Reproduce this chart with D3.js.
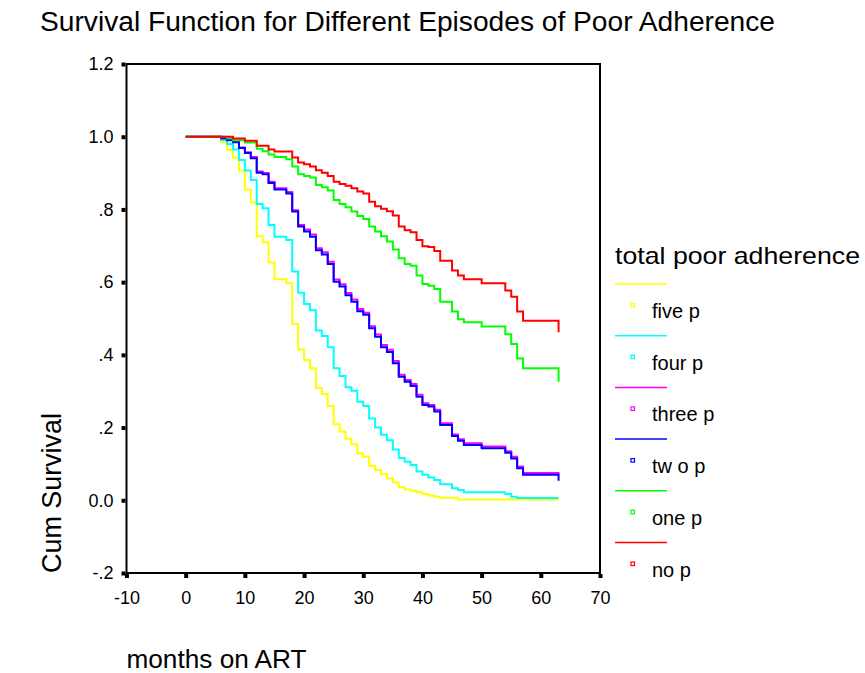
<!DOCTYPE html>
<html>
<head>
<meta charset="utf-8">
<script src="https://cdn.jsdelivr.net/npm/d3@7"></script>
<style>
  html, body { margin: 0; padding: 0; background: #fff; }
  svg { display: block; }
  text { font-family: "Liberation Sans", Arial, sans-serif; fill: #000; }
</style>
</head>
<body>
<svg id="chart" width="865" height="673"></svg>
<script>
// ---- data ----
const months = [0, 6, 7, 8, 9, 10, 11, 12, 13, 14, 15, 17, 18, 19, 20, 21, 22, 23, 24, 25, 26, 27, 28, 29, 30,
  31, 32, 33, 34, 35, 36, 37, 38, 39, 40, 41, 42, 43, 45, 46, 47, 50, 54, 55, 56, 57, 63];

const fiveP = [1, 0.985, 0.964, 0.942, 0.907, 0.855, 0.819, 0.726, 0.710, 0.654, 0.608, 0.597, 0.485, 0.415, 0.386,
  0.363, 0.308, 0.292, 0.259, 0.209, 0.189, 0.169, 0.154, 0.129, 0.120, 0.095, 0.083, 0.072, 0.060, 0.049, 0.036,
  0.030, 0.027, 0.022, 0.017, 0.013, 0.010, 0.007, 0.007, 0.002, 0.002, 0.002, 0.002, 0.002, 0.002, 0.002, 0.002];

const fourP = [1, 0.991, 0.980, 0.965, 0.936, 0.907, 0.881, 0.815, 0.803, 0.757, 0.725, 0.716, 0.629, 0.571, 0.540,
  0.523, 0.467, 0.452, 0.421, 0.363, 0.342, 0.311, 0.301, 0.271, 0.259, 0.225, 0.200, 0.180, 0.165, 0.140, 0.116,
  0.106, 0.097, 0.079, 0.070, 0.063, 0.056, 0.044, 0.033, 0.028, 0.022, 0.022, 0.017, 0.010, 0.006, 0.006, 0.006];

const threeP = [1, 0.996, 0.991, 0.986, 0.970, 0.957, 0.944, 0.904, 0.900, 0.876, 0.858, 0.848, 0.798, 0.757, 0.745,
  0.731, 0.693, 0.682, 0.656, 0.607, 0.594, 0.570, 0.552, 0.526, 0.516, 0.479, 0.456, 0.427, 0.414, 0.383, 0.345,
  0.331, 0.320, 0.290, 0.267, 0.262, 0.249, 0.212, 0.181, 0.168, 0.157, 0.148, 0.135, 0.120, 0.093, 0.075, 0.072];

const twoP = [1, 0.996, 0.990, 0.985, 0.969, 0.955, 0.941, 0.901, 0.897, 0.873, 0.855, 0.844, 0.794, 0.753, 0.739,
  0.725, 0.688, 0.676, 0.650, 0.601, 0.588, 0.564, 0.546, 0.520, 0.510, 0.473, 0.450, 0.421, 0.408, 0.377, 0.340,
  0.326, 0.314, 0.285, 0.262, 0.258, 0.244, 0.207, 0.177, 0.164, 0.152, 0.143, 0.131, 0.115, 0.088, 0.070, 0.054];

const oneP = [1, 1, 0.996, 0.990, 0.990, 0.984, 0.984, 0.967, 0.960, 0.951, 0.944, 0.938, 0.918, 0.897, 0.892,
  0.888, 0.867, 0.861, 0.852, 0.826, 0.815, 0.806, 0.794, 0.782, 0.774, 0.753, 0.739, 0.726, 0.712, 0.690, 0.666,
  0.650, 0.645, 0.618, 0.595, 0.590, 0.581, 0.546, 0.519, 0.498, 0.490, 0.478, 0.457, 0.430, 0.390, 0.363, 0.326];

const noP = [1, 1, 1, 0.995, 0.995, 0.989, 0.989, 0.975, 0.975, 0.965, 0.959, 0.959, 0.943, 0.929, 0.924,
  0.918, 0.908, 0.901, 0.892, 0.876, 0.870, 0.865, 0.858, 0.849, 0.844, 0.821, 0.809, 0.802, 0.795, 0.783, 0.753,
  0.743, 0.737, 0.716, 0.699, 0.697, 0.686, 0.659, 0.632, 0.618, 0.608, 0.597, 0.577, 0.560, 0.519, 0.494, 0.462];

const seriesNames = ["five p", "four p", "three p", "tw o p", "one p", "no p"];
const seriesValues = [fiveP, fourP, threeP, twoP, oneP, noP];
const seriesColors = ["#ffff00", "#00ffff", "#ff00ff", "#0000ff", "#00ff00", "#ff0000"];

const xTicks = [-10, 0, 10, 20, 30, 40, 50, 60, 70];
const yTicks = [-0.2, 0, 0.2, 0.4, 0.6, 0.8, 1.0, 1.2];
const yTickLabels = ["-.2", "0.0", ".2", ".4", ".6", ".8", "1.0", "1.2"];

const titleText = "Survival Function for Different Episodes of Poor Adherence";
const xTitle = "months on ART";
const yTitle = "Cum Survival";
const legendTitle = "total poor adherence";

// ---- drawing ----
const svg = d3.select("#chart");
const plot = { left: 126.5, right: 600, top: 64, bottom: 573 };

const x = d3.scaleLinear().domain([-10, 70]).range([plot.left, plot.right]);
const y = d3.scaleLinear().domain([-0.2, 1.2]).range([plot.bottom, plot.top]);

// title
svg.append("text")
  .attr("x", 40).attr("y", 31)
  .attr("font-size", 27)
  .attr("textLength", 735).attr("lengthAdjust", "spacingAndGlyphs")
  .text(titleText);

// frame
svg.append("rect")
  .attr("x", plot.left).attr("y", plot.top)
  .attr("width", plot.right - plot.left).attr("height", plot.bottom - plot.top)
  .attr("fill", "none").attr("stroke", "#000").attr("stroke-width", 2);

// y axis
const yAxis = d3.axisLeft(y).tickValues(yTicks).tickSize(0).tickPadding(13)
  .tickFormat((d, i) => yTickLabels[i]);
const gy = svg.append("g").attr("transform", `translate(${plot.left},0)`).call(yAxis);
gy.select(".domain").remove();
gy.selectAll(".tick text").attr("font-size", 18).attr("font-family", "Liberation Sans, Arial, sans-serif").attr("fill", "#000");
gy.selectAll(".tick").append("rect")
  .attr("x", -5).attr("y", -2).attr("width", 4).attr("height", 4).attr("fill", "#000");

// x axis
const xAxis = d3.axisBottom(x).tickValues(xTicks).tickSize(0).tickPadding(18)
  .tickFormat(d => String(d));
const gx = svg.append("g").attr("transform", `translate(0,${plot.bottom})`).call(xAxis);
gx.select(".domain").remove();
gx.selectAll(".tick text").attr("font-size", 18).attr("font-family", "Liberation Sans, Arial, sans-serif").attr("fill", "#000");
gx.selectAll(".tick").append("rect")
  .attr("x", -2).attr("y", 1).attr("width", 4).attr("height", 4).attr("fill", "#000");

// axis titles
svg.append("text")
  .attr("transform", `translate(61,573) rotate(-90)`)
  .attr("font-size", 27)
  .attr("textLength", 160).attr("lengthAdjust", "spacingAndGlyphs")
  .text(yTitle);

svg.append("text")
  .attr("x", 126.5).attr("y", 668)
  .attr("font-size", 25)
  .attr("textLength", 180).attr("lengthAdjust", "spacingAndGlyphs")
  .text(xTitle);

// survival curves
const line = d3.line()
  .x(d => x(d[0]))
  .y(d => y(d[1]))
  .curve(d3.curveStepAfter);

seriesValues.forEach((vals, i) => {
  const pts = months.map((m, j) => [m, vals[j]]);
  svg.append("path")
    .datum(pts)
    .attr("d", line)
    .attr("fill", "none")
    .attr("stroke", seriesColors[i])
    .attr("stroke-width", 2)
    .attr("stroke-linejoin", "miter");
});

// legend
svg.append("text")
  .attr("x", 615).attr("y", 264)
  .attr("font-size", 24)
  .attr("textLength", 245).attr("lengthAdjust", "spacingAndGlyphs")
  .text(legendTitle);

const legendStep = 51.7;
seriesNames.forEach((name, i) => {
  const ly = 284 + i * legendStep;
  const g = svg.append("g");
  g.append("line")
    .attr("x1", 615).attr("x2", 667).attr("y1", ly).attr("y2", ly)
    .attr("stroke", seriesColors[i]).attr("stroke-width", 1.5);
  g.append("rect")
    .attr("x", 631).attr("y", ly + 19.5).attr("width", 3.5).attr("height", 3.5)
    .attr("fill", "#fff").attr("stroke", seriesColors[i]).attr("stroke-width", 1.2);
  g.append("text")
    .attr("x", 652).attr("y", ly + 34)
    .attr("font-size", 20)
    .text(name);
});
</script>
</body>
</html>
